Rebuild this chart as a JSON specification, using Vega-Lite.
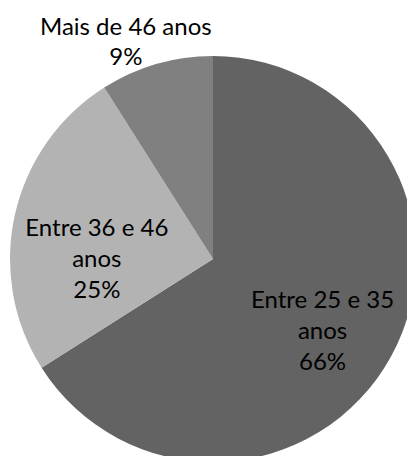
{
  "$schema": "https://vega.github.io/schema/vega-lite/v6.json",
  "width": 388,
  "height": 394,
  "autosize": {"type": "none"},
  "padding": {"left": 19, "top": 62, "right": 0, "bottom": 0},
  "background": "white",
  "config": {"view": {"stroke": null}},
  "data": {
    "values": [
      {"faixa": "Entre 25 e 35 anos", "pct": 66, "ordem": 1, "rotulo": "Entre 25 e 35\nanos\n66%"},
      {"faixa": "Entre 36 e 46 anos", "pct": 25, "ordem": 2, "rotulo": "Entre 36 e 46\nanos\n25%"},
      {"faixa": "Mais de 46 anos", "pct": 9, "ordem": 3, "rotulo": "Mais de 46 anos\n9%"}
    ]
  },
  "layer": [
    {
      "mark": {"type": "arc", "outerRadius": 203},
      "encoding": {
        "theta": {"field": "pct", "type": "quantitative", "stack": true},
        "order": {"field": "ordem", "type": "quantitative"},
        "color": {
          "field": "faixa",
          "type": "nominal",
          "scale": {
            "domain": ["Entre 25 e 35 anos", "Entre 36 e 46 anos", "Mais de 46 anos"],
            "range": ["#636363", "#b3b3b3", "#808080"]
          },
          "legend": null
        }
      }
    },
    {
      "mark": {"type": "text", "radius": 125, "dy": -18, "font": "Lato", "fontSize": 24, "lineBreak": "\n", "lineHeight": 31, "align": "center", "baseline": "middle", "color": "#000000"},
      "encoding": {
        "theta": {"field": "pct", "type": "quantitative", "stack": true},
        "order": {"field": "ordem", "type": "quantitative"},
        "text": {"condition": {"test": "datum.ordem === 1", "field": "rotulo", "type": "nominal"}, "value": ""}
      }
    },
    {
      "mark": {"type": "text", "radius": 117, "dx": -2, "dy": -4, "font": "Lato", "fontSize": 24, "lineBreak": "\n", "lineHeight": 31, "align": "center", "baseline": "middle", "color": "#000000"},
      "encoding": {
        "theta": {"field": "pct", "type": "quantitative", "stack": true},
        "order": {"field": "ordem", "type": "quantitative"},
        "text": {"condition": {"test": "datum.ordem === 2", "field": "rotulo", "type": "nominal"}, "value": ""}
      }
    },
    {
      "mark": {"type": "text", "radius": 230, "dx": -23, "dy": -10, "font": "Lato", "fontSize": 24, "lineBreak": "\n", "lineHeight": 30, "align": "center", "baseline": "middle", "color": "#000000"},
      "encoding": {
        "theta": {"field": "pct", "type": "quantitative", "stack": true},
        "order": {"field": "ordem", "type": "quantitative"},
        "text": {"condition": {"test": "datum.ordem === 3", "field": "rotulo", "type": "nominal"}, "value": ""}
      }
    }
  ]
}
